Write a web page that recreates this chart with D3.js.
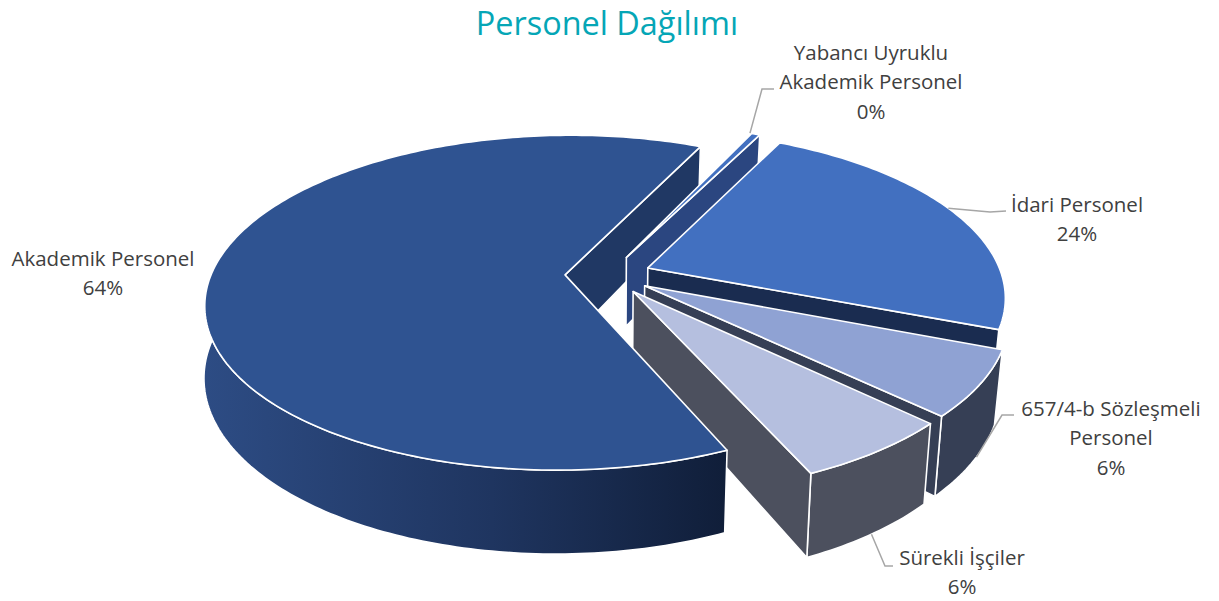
<!DOCTYPE html>
<html lang="tr">
<head>
<meta charset="UTF-8">
<title>Personel Dağılımı</title>
<script src="https://d3js.org/d3.v7.min.js"></script>
<style>
    html, body { margin: 0; padding: 0; background: #fff; }
    svg { display: block; }
    .title { font-family: "Open Sans", sans-serif; font-size: 32.4px; fill: #05a6b6; text-anchor: middle; }
    .label { font-family: "Open Sans", sans-serif; font-size: 20.5px; fill: #404040; text-anchor: middle; }
    .face { stroke: #fff; stroke-width: 1.6px; stroke-linejoin: round; }
    .leader { fill: none; stroke: #a6a6a6; stroke-width: 1.5px; }
</style>
</head>
<body>
<svg width="1219" height="601"></svg>
<script>
    // Data
    const categories = ["Akademik Personel", "Yabancı Uyruklu\nAkademik Personel", "İdari Personel", "657/4-b Sözleşmeli\nPersonel", "Sürekli İşçiler"];
    const values = [63.6, 0.45, 23.5, 6.3, 6.15];
    const topColors = ["#2f5391", "#4270c0", "#4270c0", "#8fa2d3", "#b5bfdf"];
    const sideColors = ["#203864", "#2b4680", "#1a2c50", "#363f55", "#4c505e"];

    const width = 1219, height = 601;
    const svg = d3.select("svg");

    // Camera for the tilted pie: world x/y lie on the pie plane, z goes down
    const centerX = 608, centerY = 275;
    const radius = 354, explode = 43, depth = 70;
    const tilt = 0.46, perspective = 0.00047;

    function project(wx, wy, low) {
        const f = 1 / (1 + perspective * wy);
        // lower edges lean in on the right, hardly at all on the left
        const lean = low ? (wx > 0 ? 0.98 : 1.002) : 1;
        return [centerX + wx * f * lean, centerY + (-wy * tilt + (low ? depth : 0)) * f];
    }

    const rad = d => d * Math.PI / 180;
    const firstAngle = rad(156);
    const slices = d3.pie().sort(null).startAngle(firstAngle).endAngle(firstAngle + 2 * Math.PI)(values);
    const format = d3.format(".0%");
    const total = d3.sum(values);
    const line = d3.line();

    const defs = svg.append("defs");
    const wallGradient = defs.append("linearGradient").attr("id", "wall-gradient");
    wallGradient.append("stop").attr("offset", "0%").attr("stop-color", "#2d4c84");
    wallGradient.append("stop").attr("offset", "55%").attr("stop-color", "#1f3560");
    wallGradient.append("stop").attr("offset", "100%").attr("stop-color", "#101e39");

    function apex(s) {
        const mid = (s.startAngle + s.endAngle) / 2;
        return [explode * Math.sin(mid), explode * Math.cos(mid)];
    }

    function rim(s, a) {
        const o = apex(s);
        return [o[0] + radius * Math.sin(a), o[1] + radius * Math.cos(a)];
    }

    function arcAngles(a0, a1) {
        const n = Math.max(2, Math.ceil((a1 - a0) / rad(1)));
        return d3.range(n + 1).map(i => a0 + (a1 - a0) * i / n);
    }

    function face(points, fill) {
        svg.append("path").attr("class", "face").attr("d", line(points) + "Z").attr("fill", fill);
    }

    // Cut side going from the apex to the rim at angle a
    function sideWall(s, a, fill) {
        const o = apex(s), r = rim(s, a);
        face([project(o[0], o[1]), project(r[0], r[1]), project(r[0], r[1], true), project(o[0], o[1], true)], fill);
    }

    // Only the part of the rim that faces the viewer is drawn
    function outerWall(s, fill) {
        const turn = 2 * Math.PI;
        [[rad(82), rad(278)], [rad(82) + turn, rad(278) + turn]].forEach(([lo, hi]) => {
            const a0 = Math.max(s.startAngle, lo), a1 = Math.min(s.endAngle, hi);
            if (a1 <= a0) return;
            const angles = arcAngles(a0, a1);
            const upper = angles.map(a => { const r = rim(s, a); return project(r[0], r[1]); });
            const lower = angles.slice().reverse().map(a => { const r = rim(s, a); return project(r[0], r[1], true); });
            face(upper.concat(lower), fill);
        });
    }

    function topFace(s, fill) {
        const o = apex(s);
        const pts = arcAngles(s.startAngle, s.endAngle).map(a => { const r = rim(s, a); return project(r[0], r[1]); });
        face([project(o[0], o[1])].concat(pts), fill);
    }

    // Back to front: the big slice's far cut first, the big slice's top last
    sideWall(slices[0], slices[0].endAngle, sideColors[0]);
    [1, 2, 3, 4].forEach(i => {
        const s = slices[i];
        outerWall(s, sideColors[i]);
        sideWall(s, s.endAngle, sideColors[i]);
        topFace(s, topColors[i]);
    });
    outerWall(slices[0], "url(#wall-gradient)");
    topFace(slices[0], topColors[0]);

    // Leader lines and data labels
    const labelLayout = [
        { x: 103, y: 266, anchorAngle: null, bend: null, end: null },
        { x: 871, y: 60, anchorAngle: rad(384.6), bend: [762, 89], end: [774, 89], low: false },
        { x: 1077, y: 212, anchorAngle: rad(426.7), bend: [990, 212], end: [1006, 211], low: false },
        { x: 1111, y: 416, anchorAngle: rad(481), bend: [1002, 415], end: [1014, 415], low: true },
        { x: 962, y: 565, anchorAngle: rad(505), bend: [885, 566], end: [893, 566], low: true }
    ];

    labelLayout.forEach((l, i) => {
        if (l.anchorAngle !== null) {
            const r = rim(slices[i], l.anchorAngle);
            svg.append("path").attr("class", "leader")
                .attr("d", line([project(r[0], r[1], l.low), l.bend, l.end]));
        }
        const rows = categories[i].split("\n").concat(format(values[i] / total));
        const text = svg.append("text").attr("class", "label");
        rows.forEach((row, j) => {
            text.append("tspan").attr("x", l.x).attr("y", l.y + j * 29.3).text(row);
        });
    });

    svg.append("text").attr("class", "title").attr("x", 607).attr("y", 35).text("Personel Dağılımı");
</script>
</body>
</html>
